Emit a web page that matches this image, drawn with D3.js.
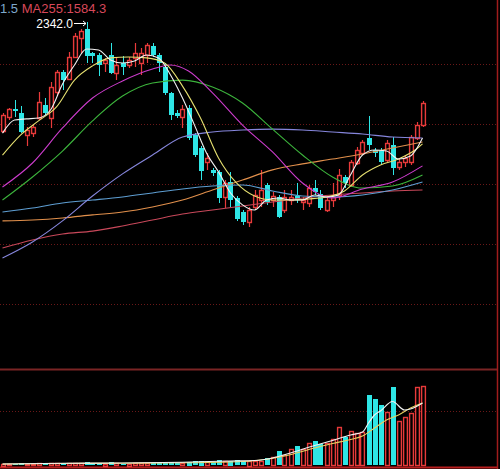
<!DOCTYPE html>
<html lang="zh-CN">
<head>
<meta charset="UTF-8">
<title>K线</title>
<script src="https://cdnjs.cloudflare.com/ajax/libs/d3/7.8.5/d3.min.js"></script>
<style>
  body { margin: 0; padding: 0; background: #000; overflow: hidden; }
  svg { display: block; }
</style>
</head>
<body>
<svg id="chart" width="500" height="469"></svg>
<script>
// daily bars, oldest first
const opens = [1850,1914,1950,1932,1832,1841,1909,1968,1909,2026,
  2117,2085,2184,2270,2310,2202,2193,2157,2193,2112,
  2157,2148,2180,2157,2193,2234,2193,2139,2022,1932,
  1914,1954,1832,1774,1711,1675,1666,1553,1620,1548,
  1485,1440,1508,1539,1607,1539,1553,1494,1539,1557,
  1530,1526,1593,1566,1494,1539,1562,1643,1607,1706,
  1751,1819,1765,1765,1720,1787,1688,1711,1711,1819,
  1877];
const highs = [1932,1954,1990,1963,1868,1882,2026,1999,2071,2126,
  2126,2207,2292,2310,2342,2207,2202,2180,2247,2184,
  2189,2184,2247,2225,2247,2247,2202,2157,2026,1945,
  1968,1968,1841,1783,1751,1684,1675,1629,1666,1557,
  1494,1508,1584,1675,1616,1575,1562,1584,1584,1616,
  1553,1607,1629,1584,1553,1616,1679,1652,1720,1778,
  1810,1918,1774,1774,1810,1823,1729,1742,1832,1891,
  1986];
const lows = [1841,1900,1914,1841,1783,1823,1900,1923,1864,2008,
  2035,2080,2180,2202,2157,2157,2099,2117,2108,2080,
  2103,2135,2139,2103,2157,2184,2117,2013,1900,1909,
  1864,1810,1733,1629,1675,1647,1526,1503,1508,1445,
  1426,1417,1494,1508,1517,1508,1458,1481,1517,1526,
  1494,1508,1562,1494,1485,1508,1539,1593,1598,1697,
  1742,1765,1733,1697,1711,1652,1675,1688,1697,1810,
  1868];
const closes = [1923,1950,1941,1846,1855,1868,1981,1932,2049,2117,
  2080,2184,2279,2301,2189,2189,2148,2171,2112,2148,
  2139,2171,2202,2202,2238,2193,2157,2022,1923,1918,
  1950,1819,1742,1670,1729,1661,1548,1616,1539,1454,
  1440,1494,1562,1584,1530,1557,1463,1553,1553,1539,
  1539,1593,1575,1503,1539,1553,1652,1616,1711,1765,
  1801,1787,1751,1711,1796,1684,1711,1729,1823,1877,
  1977];
const volumes = [15,12,14,18,12,10,16,14,18,20,
  18,22,25,24,30,20,18,15,28,16,
  14,15,20,18,22,16,18,25,30,22,
  24,35,40,45,30,28,50,38,45,48,
  40,45,43,43,67,83,140,100,157,190,
  157,217,240,207,217,257,377,277,340,323,
  333,700,657,600,533,777,440,483,517,777,
  790];

// moving averages: [day, value]
const ma5 = [[0,1841],[2,1900],[4,1905],[6,1909],[8,1945],[10,2062],[12,2148],[14,2220],[16,2216],[18,2171],
  [20,2157],[22,2166],[24,2193],[26,2180],[28,2103],[30,1999],[32,1877],[34,1751],[36,1666],[38,1571],
  [40,1517],[42,1494],[44,1539],[46,1548],[48,1539],[50,1539],[52,1562],[54,1553],[56,1562],[58,1652],
  [60,1742],[62,1765],[64,1760],[66,1724],[68,1738],[70,1819]];
const ma10 = [[0,1742],[3,1832],[6,1896],[9,1959],[12,2080],[15,2144],[18,2180],[21,2184],[24,2180],[27,2157],
  [30,2053],[33,1909],[36,1729],[39,1616],[42,1557],[45,1539],[48,1539],[51,1544],[54,1553],[57,1580],
  [60,1652],[63,1697],[66,1724],[69,1769],[70,1792]];
const ma20 = [[0,1598],[5,1706],[10,1864],[15,1999],[20,2076],[25,2130],[28,2148],[31,2121],[35,2022],[40,1877],
  [45,1756],[50,1616],[55,1548],[60,1589],[65,1620],[70,1693]];
const ma30 = [[0,1539],[5,1643],[10,1760],[15,1896],[20,2008],[25,2067],[30,2080],[35,2049],[40,1977],[45,1859],
  [50,1742],[55,1643],[60,1593],[65,1602],[70,1652]];
const ma60 = [[0,1278],[5,1350],[10,1445],[15,1557],[20,1657],[25,1742],[30,1823],[35,1846],[40,1855],[45,1859],
  [50,1855],[55,1846],[60,1837],[65,1823],[70,1819]];
const ma120 = [[0,1485],[5,1503],[10,1526],[15,1539],[20,1553],[25,1571],[30,1589],[35,1602],[40,1607],[45,1580],
  [50,1557],[55,1553],[60,1562],[65,1584],[70,1620]];
const maOrange = [[0,1445],[5,1449],[10,1458],[15,1472],[20,1485],[25,1508],[30,1539],[35,1584],[40,1629],[45,1675],
  [50,1702],[55,1724],[60,1747],[65,1774],[70,1801]];
const ma255 = [[0,1323],[5,1359],[10,1386],[15,1399],[20,1422],[25,1449],[30,1476],[35,1494],[40,1512],[45,1530],
  [50,1548],[55,1562],[60,1571],[65,1580],[70,1584.3]];
const volMa5 = [[0,10],[10,17],[20,20],[30,28],[38,40],[42,45],[45,70],[48,120],[52,195],[55,245],
  [58,300],[60,330],[61,420],[62,500],[63,540],[65,635],[67,550],[68,560],[70,620]];
const volMa10 = [[0,10],[10,15],[20,18],[30,22],[41,38],[47,90],[52,170],[55,215],[58,255],[60,290],
  [62,370],[64,450],[66,500],[68,570],[70,620]];

const UP = '#e83a3a', DOWN = '#2ee6e6';

const svg = d3.select('#chart');
svg.append('rect').attr('width', 500).attr('height', 469).attr('fill', '#000');

const x = d3.scaleLinear().domain([0, opens.length - 1]).range([2.5, 422.5]);
const y = d3.scaleLinear().domain([1584.3, 2342]).range([190, 22]);
const yv = d3.scaleLinear().domain([0, 950]).range([465, 370]);

// grid
const grid = svg.append('g').attr('stroke', '#6a1818').attr('stroke-dasharray', '1,2');
d3.range(1, 6).forEach(k => {
  grid.append('line').attr('x1', 0).attr('x2', 497).attr('y1', 4 + 60 * k + 0.5).attr('y2', 4 + 60 * k + 0.5);
});
grid.append('line').attr('x1', 0).attr('x2', 497).attr('y1', 411.5).attr('y2', 411.5);

svg.append('line').attr('x1', 0).attr('x2', 498).attr('y1', 369.5).attr('y2', 369.5)
  .attr('stroke', '#7a2424').attr('stroke-width', 2);
svg.append('line').attr('x1', 0).attr('x2', 498).attr('y1', 467.5).attr('y2', 467.5)
  .attr('stroke', '#b81e1e').attr('stroke-width', 2);
svg.append('line').attr('x1', 497.5).attr('x2', 497.5).attr('y1', 0).attr('y2', 469)
  .attr('stroke', '#a01c1c').attr('stroke-width', 1.5);

const days = opens.map((o, i) => ({ i, o, h: highs[i], l: lows[i], c: closes[i], v: volumes[i] }));
const px = d => Math.round(x(d.i));
const isUp = d => d.c >= d.o;

// candles: rising days hollow red, falling days solid cyan
const candle = svg.append('g').selectAll('g').data(days).join('g');
candle.append('line')
  .attr('x1', d => px(d) + 0.5).attr('x2', d => px(d) + 0.5)
  .attr('y1', d => Math.round(y(d.h))).attr('y2', d => Math.round(y(d.l)))
  .attr('stroke', d => isUp(d) ? UP : DOWN).attr('stroke-width', d => isUp(d) ? 1.2 : 1);
candle.append('rect')
  .attr('x', d => isUp(d) ? px(d) - 1.4 : px(d) - 2)
  .attr('width', d => isUp(d) ? 3.8 : 5)
  .attr('y', d => Math.round(y(Math.max(d.o, d.c))) + (isUp(d) ? 0.5 : 0))
  .attr('height', d => Math.max(1, Math.round(y(Math.min(d.o, d.c)) - y(Math.max(d.o, d.c)))))
  .attr('fill', d => isUp(d) ? '#000' : DOWN)
  .attr('stroke', d => isUp(d) ? UP : 'none')
  .attr('stroke-width', 1.4);

// volume bars
svg.append('g').selectAll('rect').data(days).join('rect')
  .attr('x', d => isUp(d) ? px(d) - 1.4 : px(d) - 2)
  .attr('width', d => isUp(d) ? 3.8 : 5)
  .attr('y', d => Math.round(yv(d.v)) + (isUp(d) ? 0.5 : 0))
  .attr('height', d => Math.max(1, Math.round(yv(0) - yv(d.v))))
  .attr('fill', d => isUp(d) ? '#000' : DOWN)
  .attr('stroke', d => isUp(d) ? UP : 'none')
  .attr('stroke-width', 1.4);

// moving average lines
const line = d3.line().x(d => x(d[0])).y(d => y(d[1])).curve(d3.curveMonotoneX);
const vline = d3.line().x(d => x(d[0])).y(d => yv(d[1])).curve(d3.curveMonotoneX);
const maSeries = [
  [ma255, '#c8485a'], [maOrange, '#e2904c'], [ma120, '#5e9ed2'], [ma60, '#8686dc'],
  [ma30, '#3cb43c'], [ma20, '#cc3ccc'], [ma10, '#e6e070'], [ma5, '#f2f2f2']
];
maSeries.forEach(([data, color]) => {
  svg.append('path').attr('d', line(data)).attr('fill', 'none')
    .attr('stroke', color).attr('stroke-width', 1.1);
});
svg.append('path').attr('d', vline(volMa10)).attr('fill', 'none').attr('stroke', '#e6d060').attr('stroke-width', 1.1);
svg.append('path').attr('d', vline(volMa5)).attr('fill', 'none').attr('stroke', '#f2f2f2').attr('stroke-width', 1.1);

// legend row (clipped at left like the screenshot)
const legend = svg.append('text').attr('x', 0).attr('y', 13)
  .style('font-family', '"Liberation Sans", Arial, sans-serif').style('font-size', '13px');
legend.append('tspan').attr('fill', '#7ea8cc').text('1.5');
legend.append('tspan').attr('fill', '#d8485a').text(' MA255:' + ma255[ma255.length - 1][1].toFixed(1));

// highest price marker
const peak = days.reduce((a, b) => b.h > a.h ? b : a);
const ax = px(peak) - 1, ay = Math.round(y(peak.h)) + 1.5;
svg.append('text')
  .attr('x', ax - 13).attr('y', ay + 4.5)
  .attr('text-anchor', 'end').attr('fill', '#fff')
  .style('font-family', '"Liberation Sans", Arial, sans-serif').style('font-size', '12px')
  .text(peak.h.toFixed(1));
svg.append('path')
  .attr('d', `M${ax - 12},${ay}H${ax}M${ax - 3},${ay - 2.5}L${ax},${ay}L${ax - 3},${ay + 2.5}`)
  .attr('fill', 'none').attr('stroke', '#fff').attr('stroke-width', 1);
</script>
</body>
</html>
